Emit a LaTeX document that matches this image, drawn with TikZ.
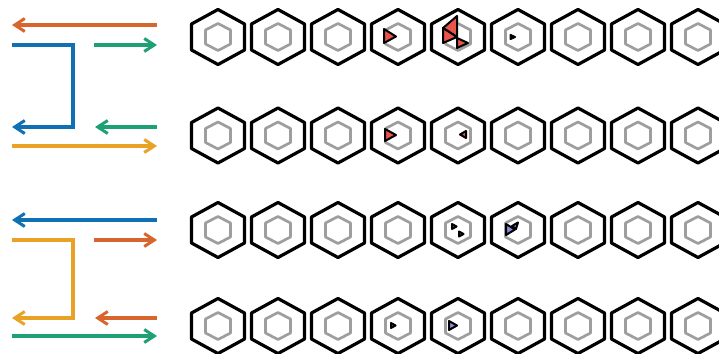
\documentclass[tikz,border=0pt]{standalone}
\usepackage{tikz}
\usetikzlibrary{arrows.meta}
\definecolor{laneorange}{RGB}{217, 101, 46}
\definecolor{laneblue}{RGB}{16, 112, 180}
\definecolor{lanegreen}{RGB}{30, 160, 118}
\definecolor{laneyellow}{RGB}{234, 162, 38}
\definecolor{carred}{RGB}{234, 84, 74}
\definecolor{carviolet}{RGB}{140, 140, 220}
\tikzset{
  lane/.style={line width=4pt, -{Straight Barb[length=10pt, width=13pt, line width=3pt]}},
  outerhex/.style={draw=black, line width=3.2pt, line join=round},
  innerhex/.style={draw=black!38, line width=2.7pt, line join=round},
  car/.style={draw=black, line width=2pt, line join=round, fill=carred},
}

\begin{document}
\begin{tikzpicture}[x=1pt, y=-1pt]
    \useasboundingbox (0,0) rectangle (719,353);
    \clip (0,0) rectangle (719,353);

    % cells: one row of nine per junction
    \foreach \r in {37,135.5,230,326} {
      \foreach \c in {218,278,...,698} {
        \draw[outerhex] (\c,\r) ++(0,-27.5) -- ++(26.5,14.5) -- ++(0,26) -- ++(-26.5,14.5) -- ++(-26.5,-14.5) -- ++(0,-26) -- cycle;
        \draw[innerhex] (\c,\r) ++(0,-13.5) -- ++(12.5,6.5) -- ++(0,14) -- ++(-12.5,6.5) -- ++(-12.5,-6.5) -- ++(0,-14) -- cycle;
      }
    }

    % first junction
    \coordinate (ora) at (157,25);  \coordinate (orb) at (12,25);
    \coordinate (bla) at (12,45);   \coordinate (blb) at (73,45);
    \coordinate (blc) at (73,127);  \coordinate (bld) at (12,127);
    \coordinate (gra) at (94,45);   \coordinate (grb) at (157,45);
    \coordinate (grc) at (157,127); \coordinate (grd) at (95,127);
    \coordinate (yea) at (12,146);  \coordinate (yeb) at (157,146);
    \draw[lane, laneorange] (ora) -- (orb);
    \draw[lane, laneblue] (bla) -- (blb) -- (blc) -- (bld);
    \draw[lane, lanegreen] (gra) -- (grb);
    \draw[lane, lanegreen] (grc) -- (grd);
    \draw[lane, laneyellow] (yea) -- (yeb);

    % second junction
    \coordinate (bua) at (157,220); \coordinate (bub) at (12,220);
    \coordinate (ywa) at (12,240);  \coordinate (ywb) at (73,240);
    \coordinate (ywc) at (73,318);  \coordinate (ywd) at (12,318);
    \coordinate (oga) at (94,240);  \coordinate (ogb) at (157,240);
    \coordinate (ogc) at (157,318); \coordinate (ogd) at (95,318);
    \coordinate (gna) at (12,336);  \coordinate (gnb) at (157,336);
    \draw[lane, laneblue] (bua) -- (bub);
    \draw[lane, laneyellow] (ywa) -- (ywb) -- (ywc) -- (ywd);
    \draw[lane, laneorange] (oga) -- (ogb);
    \draw[lane, laneorange] (ogc) -- (ogd);
    \draw[lane, lanegreen] (gna) -- (gnb);

    % cars
    \draw[car] (384,29) -- (396,36.5) -- (384,43) -- cycle;
    \draw[car] (457,16) -- (443,28) -- (457,37) -- cycle;
    \draw[car] (443,28) -- (457,37) -- (443,43) -- cycle;
    \draw[car] (457,38) -- (468,43) -- (457,48) -- cycle;
    \draw[car] (510.5,35) -- (515,37) -- (510.5,39) -- cycle;

    \draw[car] (385,129) -- (396,135) -- (385,141) -- cycle;
    \draw[car] (466,131) -- (460,134.5) -- (466,138) -- cycle;

    \draw[car] (452,224) -- (456.5,226.5) -- (452,229) -- cycle;
    \draw[car] (459,231.5) -- (463.5,234) -- (459,236.5) -- cycle;
    \draw[car, fill=carviolet] (506,224) -- (515,229.5) -- (506,235) -- cycle;
    \draw[car, fill=carviolet] (512,226) -- (518,222.5) -- (516,229) -- cycle;

    \draw[car] (391,323) -- (395.5,325.5) -- (391,328) -- cycle;
    \draw[car, fill=carviolet] (449,321) -- (457,325.5) -- (449,330) -- cycle;
\end{tikzpicture}
\end{document}
